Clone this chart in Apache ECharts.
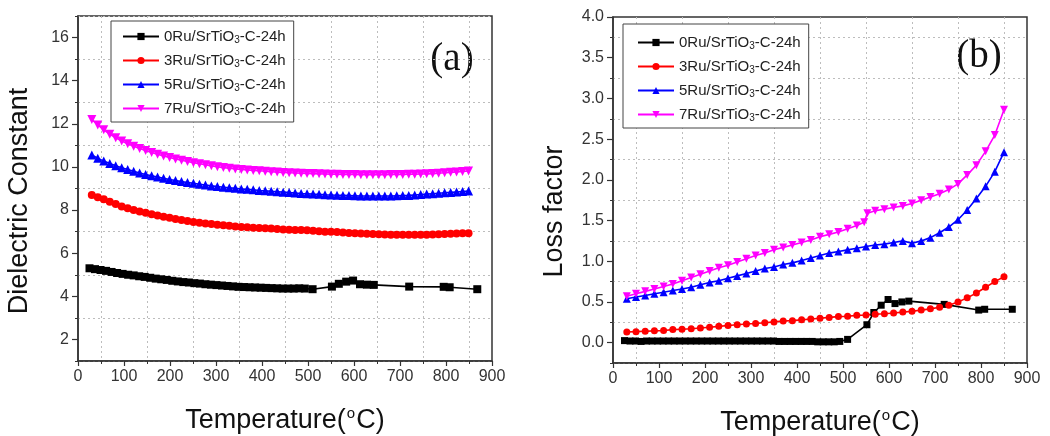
<!DOCTYPE html>
<html><head><meta charset="utf-8">
<script src="https://cdn.jsdelivr.net/npm/echarts@6/dist/echarts.min.js"></script>
<style>html,body{margin:0;padding:0;background:#fff}#c{width:1050px;height:436px}</style>
</head><body><div id="c"></div>
<script>
// ---------- data ----------
const names = ['0Ru/SrTiO3-C-24h','3Ru/SrTiO3-C-24h','5Ru/SrTiO3-C-24h','7Ru/SrTiO3-C-24h'];
const colors = ['#000000','#ff0000','#0000ff','#ff00ff'];

// (a) Dielectric constant
const tL = [30,43,56,69,82,95,108,121,134,147,160,173,186,199,212,225,238,251,264,277,290,303,316,329,342,355,368,381,394,407,420,433,446,459,472,485,498,511,524,537,550,563,576,589,602,615,628,641,654,667,680,693,706,719,732,745,758,771,784,797,810,823,836,849];
const dc7 = [12.2,11.95,11.72,11.52,11.35,11.2,11.07,10.96,10.86,10.76,10.67,10.59,10.51,10.44,10.37,10.31,10.25,10.2,10.15,10.1,10.05,10.01,9.97,9.94,9.91,9.88,9.86,9.84,9.82,9.8,9.78,9.76,9.74,9.73,9.72,9.71,9.7,9.69,9.68,9.67,9.66,9.66,9.65,9.65,9.65,9.64,9.64,9.64,9.64,9.64,9.65,9.65,9.65,9.66,9.66,9.67,9.68,9.69,9.71,9.73,9.75,9.77,9.79,9.81];
const dc5 = [10.55,10.4,10.27,10.16,10.06,9.96,9.88,9.8,9.72,9.65,9.59,9.53,9.47,9.42,9.37,9.32,9.28,9.24,9.2,9.16,9.12,9.09,9.06,9.03,9.01,8.98,8.96,8.94,8.91,8.89,8.87,8.85,8.83,8.81,8.79,8.77,8.76,8.74,8.73,8.71,8.7,8.69,8.68,8.67,8.66,8.65,8.65,8.65,8.65,8.65,8.65,8.66,8.67,8.68,8.7,8.72,8.74,8.76,8.78,8.8,8.82,8.84,8.86,8.88];
const dc3 = [8.7,8.6,8.5,8.39,8.28,8.17,8.08,8.0,7.93,7.87,7.81,7.75,7.69,7.64,7.59,7.54,7.49,7.45,7.41,7.38,7.35,7.32,7.3,7.27,7.24,7.22,7.2,7.18,7.17,7.16,7.15,7.12,7.1,7.09,7.08,7.07,7.06,7.04,7.02,7.0,6.99,6.98,6.96,6.94,6.93,6.91,6.9,6.89,6.88,6.87,6.86,6.86,6.85,6.85,6.85,6.85,6.86,6.87,6.88,6.89,6.9,6.91,6.92,6.92];
const tB = [25,37,49,61,73,85,97,109,121,133,145,157,169,181,193,205,217,229,241,253,265,277,289,301,313,325,337,349,361,373,385,397,409,421,433,445,457,469,481,493,510,552,567,583,598,613,628,643,720,795,808,868];
const dc0 = [5.3,5.26,5.22,5.18,5.13,5.08,5.04,5.0,4.97,4.93,4.9,4.86,4.82,4.79,4.76,4.72,4.69,4.66,4.64,4.61,4.59,4.56,4.54,4.52,4.5,4.48,4.46,4.44,4.43,4.42,4.41,4.4,4.39,4.38,4.37,4.36,4.36,4.36,4.37,4.36,4.33,4.45,4.58,4.68,4.73,4.56,4.54,4.53,4.45,4.44,4.42,4.33];

// (b) Loss factor
const tR = [30,50,70,90,110,130,150,170,190,210,230,250,270,290,310,330,350,370,390,410,430,450,470,490,510,530,550,570,590,610,630,650,670,690,710,730,750,770,790,810,830,850];
const tM = [30,50,70,90,110,130,150,170,190,210,230,250,270,290,310,330,350,370,390,410,430,450,470,490,510,530,546,553,570,590,610,630,650,670,690,710,730,750,770,790,810,830,850];
const lf7 = [0.57,0.6,0.63,0.66,0.69,0.72,0.76,0.8,0.84,0.88,0.92,0.95,0.99,1.03,1.07,1.1,1.14,1.17,1.2,1.23,1.26,1.3,1.33,1.36,1.4,1.44,1.48,1.59,1.62,1.64,1.66,1.68,1.71,1.75,1.79,1.83,1.88,1.95,2.06,2.18,2.35,2.55,2.86];
const lf5 = [0.54,0.56,0.58,0.6,0.62,0.64,0.66,0.68,0.71,0.74,0.76,0.79,0.82,0.85,0.88,0.91,0.93,0.96,0.98,1.01,1.04,1.07,1.1,1.12,1.14,1.16,1.18,1.2,1.21,1.23,1.25,1.22,1.25,1.29,1.35,1.42,1.51,1.63,1.77,1.92,2.1,2.34];
const lf3 = [0.13,0.135,0.14,0.145,0.15,0.16,0.165,0.17,0.18,0.19,0.2,0.21,0.22,0.23,0.235,0.245,0.255,0.265,0.27,0.28,0.29,0.3,0.31,0.32,0.325,0.335,0.34,0.35,0.355,0.365,0.375,0.385,0.4,0.415,0.435,0.46,0.5,0.55,0.61,0.68,0.75,0.81];
const lf0 = [0.025,0.02,0.02,0.015,0.02,0.02,0.02,0.02,0.02,0.02,0.02,0.02,0.02,0.02,0.02,0.02,0.02,0.02,0.02,0.02,0.02,0.02,0.02,0.02,0.02,0.02,0.02,0.02,0.015,0.015,0.015,0.015,0.015,0.015,0.015,0.01,0.01,0.01,0.01,0.015,0.04,0.22,0.37,0.46,0.53,0.48,0.5,0.51,0.47,0.4,0.41,0.41];

// tick labels
const xLabels = [0,100,200,300,400,500,600,700,800,900];
const yLabelsA = [2,4,6,8,10,12,14,16];
const yMinorA = [1,3,5,7,9,11,13,15,17];
const yLabelsB = [0,0.5,1.0,1.5,2.0,2.5,3.0,3.5,4.0];
const yMinorB = [-0.25,0.25,0.75,1.25,1.75,2.25,2.75,3.25,3.75];

// ---------- chart ----------
const FONT = '"Liberation Sans", Arial, sans-serif';
const AX = '#333';
const grids = [
  {left:78, top:16, width:414, height:345, show:true, borderColor:AX, borderWidth:1.5, outerBoundsMode:'none', containLabel:false},
  {left:613, top:17, width:414, height:346, show:true, borderColor:AX, borderWidth:1.5, outerBoundsMode:'none', containLabel:false}
];
function xAxisFor(g){
  return {type:'value', gridIndex:g, min:0, max:900, interval:100, position:'bottom',
    axisLine:{show:true, onZero:false, lineStyle:{color:AX, width:1.5}},
    axisTick:{show:true, length:5, lineStyle:{color:AX, width:1.2}},
    minorTick:{show:true, splitNumber:2, length:3, lineStyle:{color:AX, width:1}},
    splitLine:{show:false},
    minorSplitLine:{show:true, lineStyle:{color:'#bdbdbd', type:[2,3], width:1}},
    axisLabel:{customValues:xLabels, fontSize:16, color:AX, margin:8, fontFamily:FONT},
    name:'{a|Temperature(}{s|o}{a|C)}', nameLocation:'middle', nameGap:45,
    nameTextStyle:{rich:{a:{fontSize:27, color:'#111', fontFamily:FONT}, s:{fontSize:15, color:'#111', fontFamily:FONT, padding:[0,1,15,1]}}}
  };
}
function yMain(g, min, max, interval, labels, fmt, name, pad){
  return {type:'value', gridIndex:g, min, max, interval, position:'left',
    axisLine:{show:true, onZero:false, lineStyle:{color:AX, width:1.5}},
    axisTick:{show:true, length:6, customValues:labels, lineStyle:{color:AX, width:1.2}},
    axisLabel:{customValues:labels, formatter:fmt, fontSize:16, color:AX, margin:9, fontFamily:FONT},
    splitLine:{show:false},
    name, nameLocation:'middle', nameGap:45,
    nameTextStyle:{fontSize:27, color:'#111', fontFamily:FONT, padding:[0,pad,0,0]}
  };
}
function yMinor(g, min, max, interval, ticks){
  return {type:'value', gridIndex:g, min, max, interval, position:'left',
    axisLine:{show:false}, axisLabel:{show:false},
    axisTick:{show:true, length:3, customValues:ticks, lineStyle:{color:AX, width:1}},
    splitLine:{show:true, lineStyle:{color:'#bdbdbd', type:[2,3], width:1}}
  };
}
function mk(name, xs, ys, color, symbol, size, rot, xi, yi){
  return {type:'line', name, xAxisIndex:xi, yAxisIndex:yi,
    data: xs.map((x,i)=>[x, ys[i]]), symbol, symbolSize:size, symbolRotate:rot,
    lineStyle:{color, width:1.6}, itemStyle:{color}, animation:false};
}
function legendFmt(n){ const i = n.indexOf('TiO3'); return '{a|'+n.slice(0,i+3)+'}{s|3}{a|'+n.slice(i+4)+'}'; }
function legendFor(left, top, pad){
  return {orient:'vertical', left, top, itemWidth:36, itemHeight:9, itemGap:8, padding:pad,
    borderColor:'#444', borderWidth:1, backgroundColor:'#fff', borderRadius:0,
    data:names, formatter:legendFmt, selectedMode:false,
    textStyle:{rich:{a:{fontSize:15, color:'#222', fontFamily:FONT}, s:{fontSize:10, color:'#222', fontFamily:FONT, padding:[7,0,0,0]}}}};
}

const option = {
  backgroundColor:'#fff',
  animation:false,
  grid: grids,
  xAxis:[xAxisFor(0), xAxisFor(1)],
  yAxis:[
    yMain(0, 1, 17, 1, yLabelsA, v=>String(v), 'Dielectric Constant', 25),
    yMinor(0, 1, 17, 1, yMinorA),
    yMain(1, -0.25, 4, 0.25, yLabelsB, v=>v.toFixed(1), 'Loss factor', 43),
    yMinor(1, -0.25, 4, 0.25, yMinorB)
  ],
  legend:[legendFor(111, 21, [8,8,5,11]), legendFor(623, 24, [11,8,5,14])],
  graphic:[
    {type:'text', x:452, y:60, style:{text:'(a)', font:'39px "Liberation Serif", "Times New Roman", serif', fill:'#111', align:'center', verticalAlign:'middle'}},
    {type:'text', x:979, y:57, style:{text:'(b)', font:'39px "Liberation Serif", "Times New Roman", serif', fill:'#111', align:'center', verticalAlign:'middle'}}
  ],
  series:[
    mk(names[0], tB, dc0, colors[0], 'rect', 8, 0, 0, 0),
    mk(names[1], tL, dc3, colors[1], 'circle', 8, 0, 0, 0),
    mk(names[2], tL, dc5, colors[2], 'triangle', 9, 0, 0, 0),
    mk(names[3], tL, dc7, colors[3], 'triangle', 9, 180, 0, 0),
    mk(names[0], tB, lf0, colors[0], 'rect', 7, 0, 1, 2),
    mk(names[1], tR, lf3, colors[1], 'circle', 7, 0, 1, 2),
    mk(names[2], tR, lf5, colors[2], 'triangle', 8, 0, 1, 2),
    mk(names[3], tM, lf7, colors[3], 'triangle', 8, 180, 1, 2)
  ]
};
const chart = echarts.init(document.getElementById('c'), null, {renderer:'canvas'});
chart.setOption(option);
</script></body></html>
